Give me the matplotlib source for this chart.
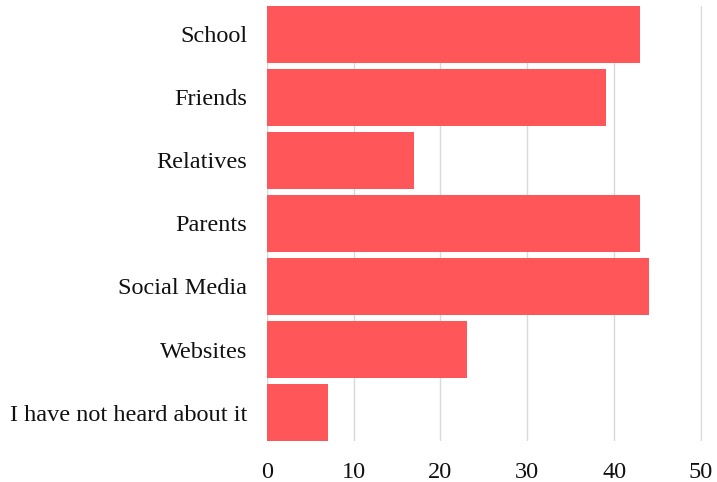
import matplotlib
matplotlib.use("Agg")
import matplotlib.pyplot as plt

categories = [
    "School",
    "Friends",
    "Relatives",
    "Parents",
    "Social Media",
    "Websites",
    "I have not heard about it",
]
counts = [43, 39, 17, 43, 44, 23, 7]
x_ticks = [0, 10, 20, 30, 40, 50]

plt.rcParams["font.family"] = ["Liberation Serif", "DejaVu Serif"]

fig = plt.figure(figsize=(7.17, 4.82), dpi=100)
ax = fig.add_axes([0.372, 0.085, 0.607, 0.903])

pos = list(range(len(categories)))
ax.barh(pos, counts, height=0.9, color="#FF5659", zorder=3)

ax.set_ylim(len(categories) - 0.55, -0.45)
ax.set_xlim(0, 50.1)
ax.set_xticks(x_ticks)
ax.set_yticks(pos)
ax.set_yticklabels(categories)
ax.grid(axis="x", color="#d9d9d9", linewidth=1, zorder=0)
ax.tick_params(length=0, labelsize=17.5, colors="#111111")
ax.tick_params(axis="y", pad=14)
ax.tick_params(axis="x", pad=15)
for side in ["top", "right", "bottom", "left"]:
    ax.spines[side].set_visible(False)
ax.axvline(0, color="#d9d9d9", linewidth=1, zorder=1)

fig.savefig("out.png", dpi=100)
